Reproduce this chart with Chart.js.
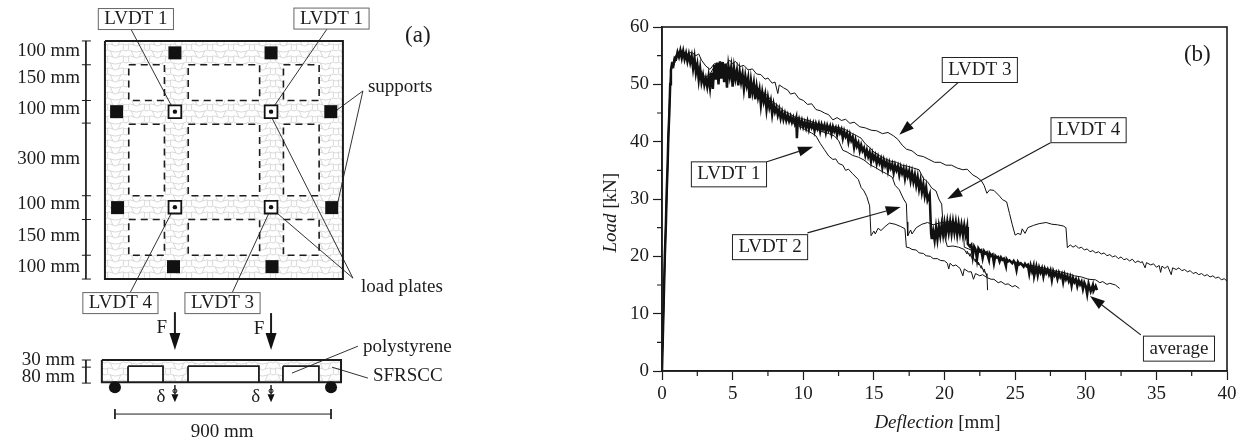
<!doctype html>
<html lang="en">
  <head>
    <meta charset="utf-8">
    <title>Load versus deflection</title>
    <style>
      html, body { margin: 0; background: #fff; }
      body { width: 1243px; height: 445px; overflow: hidden; position: relative; }
      canvas { position: absolute; top: 0; }
      #plan { left: 0; }
      #curves { left: 480px; }
    </style>
  </head>
  <body>
    <canvas id="plan" width="480" height="445"></canvas>
    <canvas id="curves" width="763" height="445"></canvas>

    <script src="https://cdn.jsdelivr.net/npm/chart.js"></script>
    <script>
        // panel (b): [deflection mm, load kN]
        const lvdt1 = [[0,0],[.1,9],[.2,19],[.33,30],[.45,40],[.58,49.5],[.68,52.6],[.85,53.4],[1.1,55],[1.4,55.5],[1.8,54.6],[2.2,53.8],[2.6,51.8],[3,50.4],[3.4,50.7],[3.8,53],[4.2,53.2],[4.6,52.4],[5,52],[5.4,51],[5.8,50.4],[6.2,49.4],[6.6,48.8],[7,47.6],[7.4,46.9],[7.8,45.9],[8.2,44.9],[8.6,44.2],[9,43.6],[9.4,43.1],[9.8,42.6],[10.2,42],[10.6,41.5],[10.9,41],[11.2,39.7],[11.5,38.6],[11.8,37.5],[12.1,36.9],[12.3,37],[12.5,36.2],[12.8,35.9],[13,35],[13.2,35.2],[13.5,34.4],[13.9,33.4],[14.1,32],[14.3,31.4],[14.5,30.4],[14.7,28.8],[14.75,26],[14.8,23.6],[15,24.4],[15.1,23.9],[15.3,24.9],[15.5,24.5],[15.8,25.2],[16.1,25.8],[16.5,25.6],[16.9,25.2],[17.2,24.8],[17.3,21.6],[17.5,21.5],[17.7,21.2],[18,21.1],[18.2,20.6],[18.5,20.5],[18.7,20.1],[19,20],[19.2,19.6],[19.5,19.6],[19.7,19.3],[20,19.2],[20.2,18.8],[20.3,17.8],[20.4,18.8],[20.6,18.3],[20.8,18.5],[21.1,17.9],[21.3,16.6],[21.4,17.8],[21.7,17.3],[21.9,17.3],[22.05,16],[22.2,17],[22.5,16.6],[22.7,16.8],[23,16.3],[23.3,16],[23.5,16],[23.8,15.4],[24,15.6],[24.3,15.1],[24.5,15.2],[24.8,14.7],[25,14.9],[25.3,14.4]];
        const lvdt2 = [[0,0],[.1,11],[.2,21],[.33,32],[.45,42],[.58,51],[.68,53.4],[.85,54.2],[1.1,55.4],[1.4,55.9],[1.8,55.1],[2.2,54.6],[2.6,53],[3,51.4],[3.4,50.5],[3.8,52.6],[4.2,53.4],[4.6,52.6],[5,52.3],[5.4,51.4],[5.8,50.8],[6.2,49.9],[6.6,49.2],[7,48],[7.4,47.2],[7.8,46.2],[8.2,45.4],[8.6,44.6],[9,44],[9.4,43.5],[9.8,43.2],[10.2,42.9],[10.6,42.4],[11,42.1],[11.4,41.7],[11.8,41.4],[12.2,41],[12.5,40.2],[12.8,38.5],[13.1,38.2],[13.5,37.6],[13.9,37.3],[14.3,36.8],[14.7,36],[15.1,35.5],[15.5,34.9],[15.9,34.4],[16.3,33.8],[16.5,32.4],[16.8,31.6],[17.1,30],[17.3,29.2],[17.35,26],[17.4,23.6],[17.6,24.6],[17.7,23.9],[18,25],[18.4,25.6],[18.8,25.9],[19.2,25.5],[19.6,25.8],[20,25.9],[20.4,26.1],[20.8,25.8],[21.2,25.2],[21.35,24.4],[21.4,21.6],[21.7,21.3],[22.2,20.8],[22.7,20.6],[23.2,20],[23.7,19.9],[24.2,19.4],[24.7,19.1],[25.2,18.9],[25.7,18.5],[26.2,18.4],[26.7,18.1],[27.2,17.9],[27.7,17.5],[28.2,17.3],[28.7,17],[29.2,16.6],[29.7,16.4],[30.2,16],[30.7,15.9],[31,15.4],[31.2,15.6],[31.5,15.1],[31.7,15.3],[32.1,15],[32.4,14.4]];
        const lvdt3 = [[0,0],[.1,8],[.2,18],[.33,29],[.45,39],[.58,49],[.68,53],[.85,54.4],[1.1,55.6],[1.4,55.8],[1.8,55.3],[2.1,55.6],[2.4,55],[2.6,55.3],[2.8,54.2],[3.1,53.2],[3.4,52.6],[3.7,53.6],[4.1,53.5],[4.5,53.3],[4.8,54.2],[5,53.6],[5.2,54],[5.5,53.1],[5.8,53.3],[6.1,52.5],[6.4,52.7],[6.7,51.8],[7,51.7],[7.3,50.9],[7.5,51.1],[7.8,50.2],[8,50.4],[8.2,48.4],[8.3,49.9],[8.6,49.4],[8.9,49],[9.1,48.3],[9.4,48.5],[9.7,47.5],[10,47.2],[10.3,46.5],[10.6,46.6],[10.9,45.6],[11.2,45.4],[11.5,45],[11.8,44.7],[12.1,43.8],[12.4,44.2],[12.7,43.7],[13,43.9],[13.3,43.2],[13.6,43.4],[14,42.6],[14.4,42.4],[14.8,42],[15.2,41.9],[15.6,41.4],[16,41.6],[16.4,41],[16.7,40.4],[17,39.4],[17.3,38.7],[17.7,38.4],[18.1,37.6],[18.5,37.4],[18.9,36.9],[19.3,36.4],[19.7,36.4],[20.1,35.9],[20.5,35.9],[20.9,35.4],[21.3,35.1],[21.6,35.2],[22,34.2],[22.3,33.8],[22.6,33.2],[22.8,32.4],[23,31],[23.2,31.6],[23.5,31.5],[23.9,30.5],[24.1,29.9],[24.4,29.5],[24.6,27.5],[24.8,25.5],[25,23.7],[25.2,24],[25.4,23.8],[25.5,24.8],[25.7,24],[25.9,25],[26.3,25.4],[26.7,25.7],[27.2,25.9],[27.6,25.6],[28,25.5],[28.4,25.3],[28.6,25],[28.7,21.5],[28.9,22],[29.1,21.6],[29.3,21.9],[29.5,21.4],[29.7,21.6],[29.9,21.1],[30.1,21.3],[30.3,20.8],[30.5,21],[30.7,20.6],[30.9,20.8],[31.1,20.4],[31.3,20.6],[31.5,20.1],[31.7,20.3],[31.9,19.9],[32.1,20.1],[32.3,19.6],[32.5,19.9],[32.7,19.4],[32.9,19.6],[33.1,19.2],[33.3,19.5],[33.5,18.9],[33.7,19.2],[33.9,18.9],[34,19.1],[34.2,18],[34.3,18.9],[34.6,18.5],[34.8,18.7],[35,18.1],[35.2,18.4],[35.3,17.2],[35.4,18.3],[35.6,17.9],[35.8,18.3],[36.05,16.8],[36.15,18],[36.4,17.7],[36.6,18],[36.8,17.5],[37,17.7],[37.2,17.3],[37.4,17.5],[37.6,17],[37.8,17.2],[38,16.8],[38.2,17],[38.4,16.6],[38.6,16.8],[38.8,16.4],[39,16.6],[39.2,16.2],[39.4,16.4],[39.6,15.9],[39.8,16.1],[40,15.7]];
        const lvdt4 = [[0,0],[.1,10],[.2,20],[.33,31],[.45,41],[.58,50],[.68,53],[.85,54],[1.1,55.2],[1.4,55.7],[1.8,54.9],[2.2,54.3],[2.6,52.5],[3,51],[3.4,51.8],[3.8,53.5],[4.2,53.7],[4.6,53],[5,52.8],[5.4,51.8],[5.8,51.5],[6.2,50.3],[6.6,49.9],[7,48.8],[7.4,48.2],[7.8,47],[8.2,46.3],[8.6,45.4],[9,44.9],[9.4,44.3],[9.8,44.1],[10.2,43.8],[10.6,43.5],[11,43.1],[11.4,42.9],[11.8,42.5],[12.2,42.6],[12.6,42.4],[13,42.1],[13.4,41.5],[13.8,41],[14.1,40.6],[14.4,39.6],[14.7,39],[15,38.2],[15.4,37.6],[15.8,37],[16.2,36.6],[16.6,36.4],[17,35.9],[17.4,35.7],[17.8,35.4],[18.2,35.1],[18.5,33.6],[18.8,33],[19.1,31.9],[19.4,31.4],[19.6,30],[19.8,29.1],[19.9,25.5],[20,23.5],[20.2,21.7],[20.6,21.8],[21,21.6],[21.4,21.2],[21.6,20.4],[21.6,20.9],[21.8,20],[21.8,20.5],[22,19.4],[22,20],[22.2,19],[22.2,19.5],[22.4,18.5],[22.4,19],[22.6,17.9],[22.6,18.4],[22.8,17.2],[22.8,17.8],[23,16.5],[23,17],[23.05,14.1]];
        const average = [[0,0],[.1,10],[.2,20],[.28,26],[.33,31],[.4,36],[.45,41],[.52,45],[.58,50],[.63,52.5],[.7,53.5],[.8,53.2],[.9,54.6],[1,54.4],[1.1,55.6],[1.2,54.8],[1.3,55.9],[1.4,54.6],[1.5,55.8],[1.6,54.4],[1.7,55.4],[1.8,54],[1.9,55.2],[2,53.8],[2.1,54.9],[2.2,52.8],[2.3,54.6],[2.4,52],[2.5,53.4],[2.6,50.8],[2.7,52.8],[2.8,50.4],[2.9,51.6],[3,49.9],[3.1,51],[3.2,49.6],[3.3,51.4],[3.4,49.4],[3.5,52],[3.6,49.2],[3.7,53.4],[3.8,50.8],[3.9,53.8],[4,50],[4.1,54],[4.2,51],[4.3,53.9],[4.4,50.4],[4.5,53.6],[4.6,49.4],[4.7,53.2],[4.8,51.4],[4.9,53],[5,49.6],[5.1,52.8],[5.2,51],[5.3,52.4],[5.4,49.8],[5.5,52.2],[5.6,50.4],[5.7,51.8],[5.8,49.2],[5.9,51.4],[6,49.8],[6.1,51.1],[6.2,47.6],[6.3,50.6],[6.4,48.6],[6.5,50.2],[6.6,47.4],[6.7,49.6],[6.8,47.8],[6.9,49.1],[7,46.4],[7.1,48.6],[7.2,47],[7.3,48.2],[7.4,45.6],[7.5,47.6],[7.6,46],[7.7,47.1],[7.8,44.8],[7.9,46.5],[8,45.2],[8.1,46],[8.2,44.6],[8.3,45.6],[8.4,44.1],[8.5,45.2],[8.6,43.9],[8.7,44.9],[8.8,43.7],[8.9,44.6],[9,43.6],[9.1,44.4],[9.2,43.4],[9.3,44.2],[9.4,43.2],[9.5,44.1],[9.55,40.6],[9.6,43],[9.7,43.9],[9.8,42.8],[9.9,43.7],[10,42.6],[10.1,43.4],[10.2,42.4],[10.3,43.5],[10.4,42.2],[10.5,43.3],[10.6,42.5],[10.7,43.2],[10.8,41.9],[10.9,43.1],[11,42.3],[11.1,43.1],[11.2,41.8],[11.3,43],[11.4,42.2],[11.5,42.9],[11.6,41.6],[11.7,42.8],[11.8,42],[11.9,42.7],[12,41.4],[12.1,42.6],[12.2,41.8],[12.3,42.4],[12.4,41.2],[12.5,42.3],[12.6,41.5],[12.7,42.1],[12.8,40.6],[12.9,41.8],[13,40.9],[13.1,41.5],[13.2,40],[13.3,41.2],[13.4,40.2],[13.5,40.8],[13.6,39],[13.7,40.3],[13.8,39.2],[13.9,39.8],[14,38.4],[14.1,39.4],[14.2,38.4],[14.3,38.9],[14.4,37.6],[14.5,38.5],[14.6,37.4],[14.7,38.2],[14.8,36.6],[14.9,37.9],[15,36.9],[15.1,37.6],[15.2,36.2],[15.3,37.3],[15.4,36.3],[15.5,37],[15.6,35.5],[15.7,36.8],[15.8,35.8],[15.9,36.5],[16,35],[16.1,36.3],[16.2,35.4],[16.3,36.1],[16.4,34.6],[16.5,35.9],[16.6,35],[16.7,35.7],[16.8,34.2],[16.9,35.5],[17,34.5],[17.1,35.3],[17.2,33.6],[17.3,35.1],[17.4,34],[17.5,34.9],[17.6,33.2],[17.7,34.6],[17.8,33],[17.9,34.2],[18,32.4],[18.1,33.8],[18.2,31.8],[18.3,33.2],[18.4,31.2],[18.5,32.6],[18.6,30.6],[18.7,32],[18.8,29.8],[18.95,30.8],[19.05,24],[19.1,23],[19.2,24.4],[19.3,22.8],[19.4,25],[19.5,23],[19.6,25.2],[19.7,23.6],[19.8,25.5],[19.9,23.8],[20,25.8],[20.1,24],[20.2,26],[20.3,24.2],[20.4,26],[20.5,24],[20.6,26],[20.7,24.2],[20.8,25.9],[20.9,23.8],[21,25.7],[21.1,24],[21.2,25.5],[21.3,23.8],[21.4,25.4],[21.5,23.8],[21.6,25.1],[21.65,22.2],[21.8,21.7],[21.9,22],[22,20],[22.1,21.7],[22.2,21.2],[22.3,19.5],[22.4,21.4],[22.5,21],[22.6,21.1],[22.7,19.7],[22.8,20.9],[22.9,20.5],[23,20.7],[23.15,19.4],[23.2,20.5],[23.3,20.1],[23.4,20.3],[23.5,18.8],[23.6,20.1],[23.7,19.8],[23.8,19.9],[23.9,19.1],[24,19.8],[24.1,19.4],[24.2,19.6],[24.35,18.3],[24.4,19.5],[24.5,19.1],[24.6,19.3],[24.8,18.8],[24.9,19.2],[25,18.8],[25.1,17.6],[25.2,19],[25.3,18.6],[25.4,18.8],[25.6,18.2],[25.7,18.7],[25.8,18.3],[25.9,18.5],[26,17],[26.1,18.4],[26.2,17.4],[26.3,18.3],[26.35,16.6],[26.5,18.2],[26.6,16.7],[26.7,18],[26.8,17.2],[26.9,17.9],[27,16.5],[27.1,17.8],[27.2,17.1],[27.3,17.7],[27.4,16.8],[27.5,17.5],[27.6,15.9],[27.7,17.4],[27.8,16.7],[27.9,17.2],[28,16.1],[28.1,17.1],[28.2,16.4],[28.3,16.9],[28.4,15.5],[28.5,16.8],[28.6,16],[28.7,16.6],[28.8,15.7],[28.9,16.4],[29,14.9],[29.1,16.2],[29.2,15.5],[29.3,16],[29.4,14.8],[29.5,15.8],[29.6,15.1],[29.7,15.6],[29.8,14.3],[29.9,15.4],[30,14.8],[30.1,13.4],[30.2,15.2],[30.35,13.9],[30.5,15],[30.55,14],[30.7,14.8],[30.8,14.1]];

        const curveLabels = [
            { text: 'LVDT 3', at: [22.5, 52.5], box: 25 },
            { text: 'LVDT 4', at: [30.2, 42], box: 25 },
            { text: 'LVDT 1', at: [4.74, 34.3], box: 25 },
            { text: 'LVDT 2', at: [7.65, 21.6], box: 25 },
            { text: 'average', at: [36.6, 3.9], box: 25 },
            { text: '(b)', at: [37.9, 55.1], size: 23 },
            { runs: [['Deflection', true], [' [mm]', false]], at: [19.5, -9.1] },
            { runs: [['Load', true], [' [kN]', false]], at: [-3.62, 27.6], rotate: true }
        ];
        const curveArrows = [
            { from: [21.1, 50.6], to: [16.8, 41.2] },
            { from: [27.5, 39.8], to: [20.2, 30] },
            { from: [7.43, 36.5], to: [10.7, 39.1] },
            { from: [10.3, 24.1], to: [16.9, 28.6] },
            { from: [33.9, 6.3], to: [30.3, 13.1] }
        ];

        // panel (a): everything in mm on the slab, y grows downward
        const voidX = [[100, 250], [350, 650], [750, 900]];
        const voidY = [[100, 250], [350, 650], [750, 900]];
        const sectionVoidX = [[97, 244], [349, 647], [748, 899]];
        const supports = [[294, 50], [698, 50], [49, 297], [949, 297], [53, 700], [953, 700], [288, 948], [702, 948]];
        const loadPlates = [[294, 297], [698, 297], [294, 698], [698, 698]];
        const rollers = [[42, 1454], [950, 1454]];
        const gaugeDots = [[294, 1470], [698, 1470]];
        const dimTicks = [0, 100, 250, 345, 650, 750, 900, 1000];
        const sectionTicks = [1340, 1370, 1437];
        const leaders = [
            [[109, -50], [282, 277]], [[933, -50], [714, 269]],
            [[105, 1059], [286, 710]], [[534, 1059], [689, 723]],
            [[1084, 210], [975, 290]], [[1084, 210], [979, 676]],
            [[1042, 996], [702, 324]], [[1042, 996], [723, 723]],
            [[1063, 1282], [786, 1395]], [[1105, 1416], [954, 1370]]
        ];
        const planArrows = [
            { from: [294, 1139], to: [294, 1298], head: 17, half: 5.5, lw: 2 },
            { from: [698, 1143], to: [698, 1298], head: 17, half: 5.5, lw: 2 },
            { from: [294, 1445], to: [294, 1517], head: 8, half: 3.5, lw: 1.5 },
            { from: [698, 1445], to: [698, 1517], head: 8, half: 3.5, lw: 1.5 }
        ];
        const planLabels = [
            { text: 'LVDT 1', at: [130, -92], box: 21 },
            { text: 'LVDT 1', at: [952, -94], box: 21 },
            { text: 'LVDT 4', at: [65, 1101], box: 21 },
            { text: 'LVDT 3', at: [494, 1101], box: 21 },
            { text: '(a)', at: [1315, -21], size: 23 },
            { text: 'supports', at: [1105, 193], align: 'left' },
            { text: 'load plates', at: [1076, 1034], align: 'left' },
            { text: 'polystyrene', at: [1084, 1286], align: 'left' },
            { text: 'SFRSCC', at: [1126, 1408], align: 'left' },
            { text: '900 mm', at: [492, 1643] },
            { text: 'F', at: [239, 1206] }, { text: 'F', at: [647, 1210] },
            { text: 'δ', at: [235, 1496] }, { text: 'δ', at: [634, 1496] },
            { text: '100 mm', at: [-105, 42], align: 'right' },
            { text: '150 mm', at: [-105, 155], align: 'right' },
            { text: '100 mm', at: [-105, 286], align: 'right' },
            { text: '300 mm', at: [-105, 496], align: 'right' },
            { text: '100 mm', at: [-105, 685], align: 'right' },
            { text: '150 mm', at: [-105, 820], align: 'right' },
            { text: '100 mm', at: [-105, 950], align: 'right' },
            { text: '30 mm', at: [-126, 1340], align: 'right' },
            { text: '80 mm', at: [-126, 1412], align: 'right' }
        ];

        const FONT = '"Liberation Serif", "Times New Roman", serif';
        const INK = '#1c1c1c';

        const toPoints = (pairs) => pairs.map(([x, y]) => ({ x, y }));

        // concrete hatch used for the slab
        const makeHatch = () => {
            const tile = document.createElement('canvas');
            tile.width = 21;
            tile.height = 12;
            const c = tile.getContext('2d');
            c.scale(21 / 24, 12 / 14);
            c.strokeStyle = '#c8c8c8';
            c.lineWidth = 0.8;
            c.beginPath();
            c.moveTo(0, 3.5);
            c.quadraticCurveTo(3, 1, 6, 3.5);
            c.lineTo(9, 10.5);
            c.quadraticCurveTo(12, 13, 15, 10.5);
            c.lineTo(18, 3.5);
            c.quadraticCurveTo(21, 1, 24, 3.5);
            c.moveTo(6, 3.5);
            c.quadraticCurveTo(12, 6, 18, 3.5);
            c.moveTo(15, 10.5);
            c.quadraticCurveTo(20, 8, 24, 10.5);
            c.moveTo(0, 10.5);
            c.quadraticCurveTo(5, 8, 9, 10.5);
            c.moveTo(3, 1.5);
            c.lineTo(3, 0);
            c.moveTo(3, 14);
            c.lineTo(3, 10);
            c.moveTo(21, 1.5);
            c.lineTo(21, 0);
            c.moveTo(21, 14);
            c.lineTo(21, 10);
            c.stroke();
            return c.createPattern(tile, 'repeat');
        };

        const rectangle = (x, y, style) => ({
            type: 'scatter',
            showLine: true,
            pointRadius: 0,
            fill: 'shape',
            data: toPoints([[x[0], y[0]], [x[1], y[0]], [x[1], y[1]], [x[0], y[1]], [x[0], y[0]]]),
            borderColor: INK,
            ...style
        });

        const strokes = (segments, width) => ({
            type: 'scatter',
            showLine: true,
            pointRadius: 0,
            borderColor: INK,
            borderWidth: width,
            data: segments.flatMap((s) => [...toPoints(s), { x: null, y: null }])
        });

        const markers = (pairs, style) => ({
            type: 'scatter',
            data: toPoints(pairs),
            ...style
        });

        const curve = (pairs, width) => ({
            type: 'scatter',
            showLine: true,
            pointRadius: 0,
            borderColor: '#111',
            borderWidth: width,
            tension: 0,
            data: toPoints(pairs)
        });

        const drawLabel = (chart, label) => {
            const ctx = chart.ctx;
            const x = chart.scales.x.getPixelForValue(label.at[0]);
            const y = chart.scales.y.getPixelForValue(label.at[1]);
            const size = label.size || 19;
            const runs = label.runs || [[label.text, false]];
            const fontFor = (italic) => (italic ? 'italic ' : '') + size + 'px ' + FONT;
            ctx.save();
            ctx.translate(x, y);
            if (label.rotate) ctx.rotate(-Math.PI / 2);
            let width = 0;
            runs.forEach(([t, italic]) => {
                ctx.font = fontFor(italic);
                width += ctx.measureText(t).width;
            });
            let left = -width / 2;
            if (label.align === 'left') left = 0;
            if (label.align === 'right') left = -width;
            if (label.box) {
                ctx.fillStyle = '#fff';
                ctx.strokeStyle = label.box < 25 ? '#666' : '#222';
                ctx.lineWidth = 1;
                ctx.fillRect(left - 6, -label.box / 2, width + 12, label.box);
                ctx.strokeRect(left - 6, -label.box / 2, width + 12, label.box);
            }
            ctx.fillStyle = INK;
            ctx.textBaseline = 'middle';
            ctx.textAlign = 'left';
            runs.forEach(([t, italic]) => {
                ctx.font = fontFor(italic);
                ctx.fillText(t, left, 0);
                left += ctx.measureText(t).width;
            });
            ctx.restore();
        };

        const drawArrow = (chart, arrow) => {
            const ctx = chart.ctx;
            const { x: sx, y: sy } = chart.scales;
            const x0 = sx.getPixelForValue(arrow.from[0]);
            const y0 = sy.getPixelForValue(arrow.from[1]);
            const x1 = sx.getPixelForValue(arrow.to[0]);
            const y1 = sy.getPixelForValue(arrow.to[1]);
            const angle = Math.atan2(y1 - y0, x1 - x0);
            const head = arrow.head || 15;
            const half = arrow.half || 5;
            ctx.save();
            ctx.strokeStyle = INK;
            ctx.fillStyle = '#111';
            ctx.lineWidth = arrow.lw || 1.2;
            ctx.beginPath();
            ctx.moveTo(x0, y0);
            ctx.lineTo(x1 - Math.cos(angle) * head, y1 - Math.sin(angle) * head);
            ctx.stroke();
            ctx.translate(x1, y1);
            ctx.rotate(angle);
            ctx.beginPath();
            ctx.moveTo(0, 0);
            ctx.lineTo(-head, -half);
            ctx.lineTo(-head, half);
            ctx.closePath();
            ctx.fill();
            ctx.restore();
        };

        const notes = {
            id: 'notes',
            afterDatasetsDraw(chart, args, opts) {
                (opts.arrows || []).forEach((a) => drawArrow(chart, a));
                (opts.labels || []).forEach((l) => drawLabel(chart, l));
            }
        };

        // frame and minor ticks of the curve panel
        const frame = {
            id: 'frame',
            afterDraw(chart) {
                const { ctx, chartArea: area, scales } = chart;
                ctx.save();
                ctx.strokeStyle = INK;
                ctx.lineWidth = 1.6;
                ctx.strokeRect(area.left, area.top, area.width, area.height);
                ctx.lineWidth = 1.2;
                ctx.beginPath();
                for (let v = 2.5; v < 40; v += 5) {
                    const p = scales.x.getPixelForValue(v);
                    ctx.moveTo(p, area.bottom);
                    ctx.lineTo(p, area.bottom + 5);
                }
                for (let v = 5; v < 60; v += 10) {
                    const p = scales.y.getPixelForValue(v);
                    ctx.moveTo(area.left, p);
                    ctx.lineTo(area.left - 5, p);
                }
                ctx.stroke();
                ctx.restore();
            }
        };

        const hatch = makeHatch();
        // Chart.js paints the first dataset last, so this list runs top layer first
        const planSets = [
            markers(gaugeDots, { pointRadius: 2, backgroundColor: '#fff', borderColor: '#111', borderWidth: 1 }),
            markers(rollers, { pointRadius: 6, backgroundColor: '#111', borderWidth: 0 }),
            markers(loadPlates, { pointRadius: 2.2, backgroundColor: '#111', borderWidth: 0 }),
            markers(loadPlates, { pointStyle: 'rect', pointRadius: 9, backgroundColor: '#fff', borderColor: '#111', borderWidth: 1.8 }),
            markers(supports, { pointStyle: 'rect', pointRadius: 9.2, backgroundColor: '#111', borderWidth: 0 }),
            strokes(leaders, 0.9),
            strokes([[[-80, 0], [-80, 1000]], ...dimTicks.map((y) => [[-97, y], [-59, y]])], 1),
            strokes([[[-80, 1340], [-80, 1437]], ...sectionTicks.map((y) => [[-97, y], [-59, y]])], 1),
            strokes([[[42, 1567], [950, 1567]], [[42, 1546], [42, 1588]], [[950, 1546], [950, 1588]]], 1),
            ...sectionVoidX.map((x) =>
                rectangle(x, [1366, 1433], { backgroundColor: '#fff', borderWidth: 1.8 })),
            rectangle([-13, 992], [1340, 1433], { backgroundColor: hatch, borderWidth: 2 }),
            ...voidX.flatMap((x) => voidY.map((y) =>
                rectangle(x, y, { backgroundColor: '#fff', borderWidth: 1.6, borderDash: [7, 5] }))),
            rectangle([0, 1000], [0, 1000], { backgroundColor: hatch, borderWidth: 2 })
        ];

        new Chart(document.getElementById('plan'), {
            data: { datasets: planSets },
            plugins: [notes],
            options: {
                responsive: false,
                animation: false,
                layout: { autoPadding: false },
                scales: {
                    x: { type: 'linear', display: false, min: -441, max: 1576 },
                    y: { type: 'linear', display: false, reverse: true, min: -172, max: 1697 }
                },
                plugins: {
                    legend: { display: false },
                    tooltip: { enabled: false },
                    notes: { labels: planLabels, arrows: planArrows }
                }
            }
        });

        new Chart(document.getElementById('curves'), {
            data: {
                datasets: [
                    curve(average, 2.5),
                    curve(lvdt4, 1),
                    curve(lvdt3, 1),
                    curve(lvdt2, 1),
                    curve(lvdt1, 1)
                ]
            },
            plugins: [notes, frame],
            options: {
                responsive: false,
                animation: false,
                layout: { autoPadding: false, padding: { left: 142, right: 16, top: 27, bottom: 44 } },
                scales: {
                    x: {
                        type: 'linear',
                        min: 0,
                        max: 40,
                        afterFit(scale) { scale.height = 30; },
                        grid: { drawOnChartArea: false, tickLength: 9, tickColor: INK, tickWidth: 1.2 },
                        border: { color: INK, width: 1.6 },
                        ticks: { stepSize: 5, padding: 3, maxRotation: 0, color: INK, font: { family: FONT, size: 19 } }
                    },
                    y: {
                        type: 'linear',
                        min: 0,
                        max: 60,
                        afterFit(scale) { scale.width = 40; },
                        grid: { drawOnChartArea: false, tickLength: 9, tickColor: INK, tickWidth: 1.2 },
                        border: { color: INK, width: 1.6 },
                        ticks: { stepSize: 10, padding: 4, color: INK, font: { family: FONT, size: 19 } }
                    }
                },
                plugins: {
                    legend: { display: false },
                    tooltip: { enabled: false },
                    notes: { labels: curveLabels, arrows: curveArrows }
                }
            }
        });
    </script>
  </body>
</html>
